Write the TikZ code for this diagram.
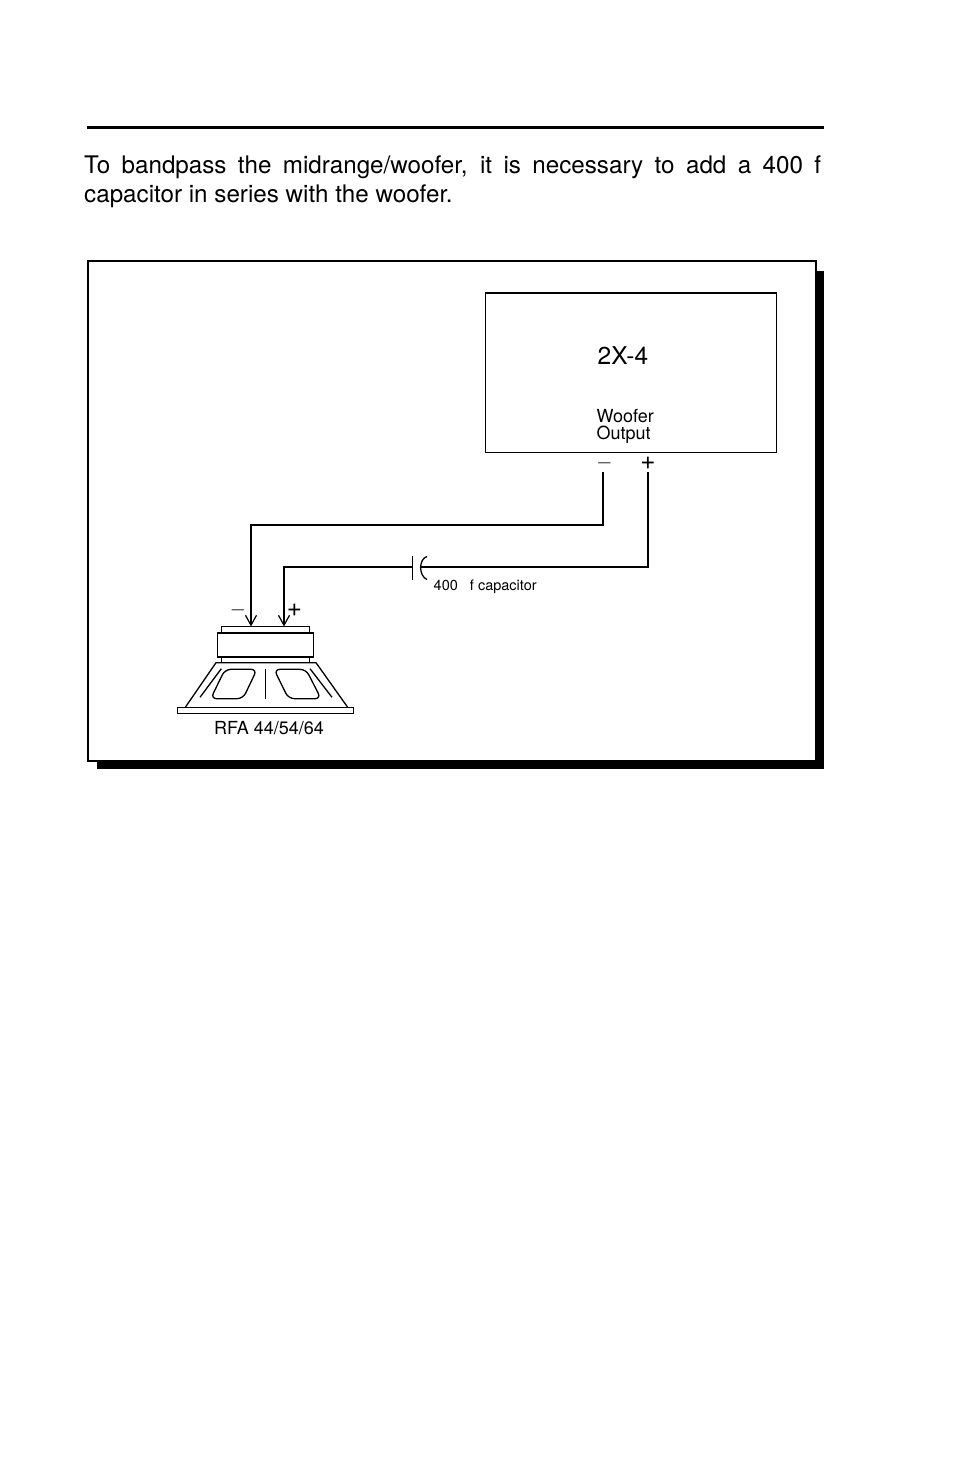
\documentclass[tikz,border=0pt]{standalone}
\usepackage{fontspec}
\setmainfont{TeX Gyre Heros}
\usetikzlibrary{arrows.meta}
\tikzset{
  box/.style={draw, line width=1.3pt, inner sep=0pt},
  frame/.style={draw, fill=white, line width=2pt, inner sep=0pt, minimum width=728pt, minimum height=500pt},
  shadow/.style={fill=black, inner sep=0pt, minimum width=727pt, minimum height=498pt},
  wire/.style={line width=2.2pt},
  thin part/.style={line width=1.3pt},
  lbl/.style={inner sep=0pt, anchor=base west, align=left},
  sign/.style={inner sep=0pt, font=\fontsize{21pt}{21pt}\selectfont},
  plussign/.style={inner sep=0pt, font=\fontsize{26pt}{26pt}\selectfont}
}
\begin{document}
\begin{tikzpicture}[x=1pt, y=-1pt, >={Straight Barb[length=10pt,width=11pt,line width=1.2pt]}]
\useasboundingbox (0,0) rectangle (954,1475);
% heading
\coordinate (ruleL) at (87,127);
\coordinate (ruleR) at (824,127);
\draw[line width=3pt] (ruleL) -- (ruleR);
\node[lbl, anchor=north west, text width=737pt, align=justify, font=\fontsize{24.2pt}{29pt}\selectfont] (intro) at (84,155.5)
  {To bandpass the midrange/woofer, it is necessary to add a 400 f\linebreak capacitor in series with the woofer.};
% frame
\node[shadow] (back) at (460.5,520) {};
\node[frame] (panel) at (452,511) {};
% amplifier
\node[box, minimum width=291pt, minimum height=159.5pt] (amp) at (631,372.75) {};
\node[lbl, font=\fontsize{24.5pt}{24.5pt}\selectfont] (model) at (597.5,364) {2X-4};
\node[lbl, font=\fontsize{18pt}{18pt}\selectfont] (woofer) at (596.5,422) {Woofer};
\node[lbl, font=\fontsize{18pt}{18pt}\selectfont] (output) at (596.5,439) {Output};
\node[sign] (ampminus) at (604.5,463.5) {$-$};
\node[plussign] (ampplus) at (648,463.5) {+};
% speaker
\node[box, minimum width=88.5pt, minimum height=6.5pt] (plate) at (265.5,630) {};
\node[box, minimum width=96.5pt, minimum height=24pt] (magnet) at (265.5,645) {};
\node[box, minimum width=88.5pt, minimum height=5.5pt] (neck) at (265.5,660) {};
\node[box, minimum width=176pt, minimum height=6pt] (base) at (265.3,710.3) {};
\draw[thin part] (185.3,707.3) -- (216,662.7) -- (316,662.7) -- (347.7,707.3);
\draw[thin part] (221.3,668.7) -- (200,697.3);
\draw[thin part] (310,668.7) -- (332,697.3);
\draw[thin part] (265.3,669.3) -- (265.3,699.3);
\draw[thin part, rounded corners=6pt] (225,669.3) -- (257,669.3) -- (243,698.7) -- (210.7,698.7) -- cycle;
\draw[thin part, rounded corners=6pt] (274,669.3) -- (306,669.3) -- (321,698.7) -- (288.5,698.7) -- cycle;
\node[sign] (spkminus) at (238,610) {$-$};
\node[plussign] (spkplus) at (294.5,610) {+};
\node[lbl, font=\fontsize{18pt}{18pt}\selectfont] (spkname) at (214,734) {RFA 44/54/64};
% capacitor
\coordinate (capL) at (412.5,567);
\coordinate (capR) at (420.5,567);
\draw[thin part] (412.5,556) -- (412.5,580);
\draw[thin part] (427,556.5) .. controls (418.5,559) and (418.5,576) .. (427,579.5);
\node[lbl, font=\fontsize{14.5pt}{14.5pt}\selectfont] (caplabel) at (433.5,590) {400 \ \ f capacitor};
% wires
\coordinate (minusout) at (603,472);
\coordinate (plusout) at (648,472);
\coordinate (minusin) at (251,626.5);
\coordinate (plusin) at (284,626.5);
\draw[wire, ->] (minusout) |- (minusin |- 0,525) -- (minusin);
\draw[wire] (plusout) |- (capR);
\draw[wire, ->] (capL) -- (plusin |- capL) -- (plusin);
\end{tikzpicture}
\end{document}
